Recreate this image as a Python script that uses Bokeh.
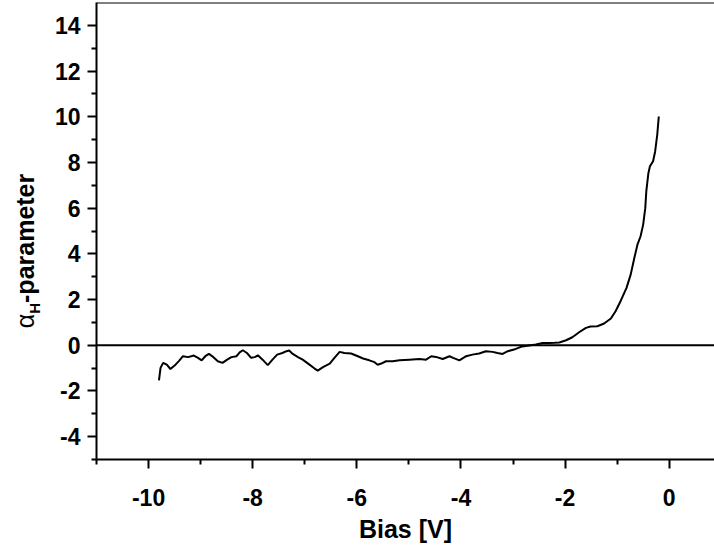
from bokeh.plotting import figure
from bokeh.layouts import row
from bokeh.models import Span, FixedTicker, Range1d, Div
from bokeh.embed import file_html
from bokeh.resources import INLINE

# ---- data ----
bias = [-9.80, -9.77, -9.72, -9.65, -9.58, -9.50, -9.41, -9.34, -9.24, -9.13, -9.05,
        -8.98, -8.91, -8.84, -8.76, -8.67, -8.58, -8.49, -8.41, -8.31, -8.25, -8.19, -8.11, -8.03,
        -7.96, -7.90, -7.81, -7.71, -7.62, -7.53, -7.43, -7.35, -7.30, -7.23, -7.13, -7.04,
        -6.91, -6.81, -6.75, -6.65, -6.52, -6.43, -6.33, -6.24, -6.11,
        -5.98, -5.88, -5.76, -5.66, -5.60, -5.53, -5.44, -5.31, -5.18,
        -4.99, -4.80, -4.67, -4.57, -4.48, -4.35, -4.22, -4.15, -4.03,
        -3.90, -3.78, -3.65, -3.52, -3.39, -3.30, -3.20, -3.10,
        -2.98, -2.85, -2.69, -2.56, -2.43, -2.30, -2.20, -2.11,
        -1.98, -1.86, -1.73, -1.60, -1.51, -1.38, -1.25, -1.12, -1.03,
        -0.93, -0.82, -0.74, -0.67, -0.61, -0.55, -0.50, -0.46, -0.44, -0.40, -0.37, -0.31,
        -0.27, -0.23, -0.20]
alpha_h = [-1.54, -0.99, -0.77, -0.85, -1.04, -0.89, -0.67, -0.48, -0.52, -0.45, -0.55,
           -0.66, -0.48, -0.38, -0.51, -0.70, -0.77, -0.63, -0.52, -0.48, -0.31, -0.22, -0.34, -0.55,
           -0.52, -0.44, -0.63, -0.87, -0.63, -0.41, -0.34, -0.26, -0.23, -0.38, -0.52, -0.63,
           -0.85, -1.02, -1.11, -0.96, -0.80, -0.55, -0.29, -0.34, -0.36,
           -0.48, -0.58, -0.66, -0.74, -0.85, -0.80, -0.70, -0.70, -0.66,
           -0.63, -0.60, -0.63, -0.48, -0.51, -0.60, -0.48, -0.55, -0.66,
           -0.48, -0.41, -0.36, -0.26, -0.29, -0.34, -0.38, -0.26,
           -0.19, -0.07, -0.01, 0.03, 0.10, 0.10, 0.11, 0.12,
           0.22, 0.35, 0.57, 0.76, 0.82, 0.83, 0.95, 1.17, 1.49,
           1.95, 2.51, 3.09, 3.82, 4.40, 4.77, 5.28, 6.00, 6.73, 7.53, 7.83, 8.05,
           8.48, 9.21, 10.01]

x_ticks = [-10, -8, -6, -4, -2, 0]
x_tick_labels = ["-10", "-8", "-6", "-4", "-2", "0"]
x_minor = [-11, -9, -7, -5, -3, -1]
y_ticks = [-4, -2, 0, 2, 4, 6, 8, 10, 12, 14]
y_tick_labels = ["-4", "-2", "0", "2", "4", "6", "8", "10", "12", "14"]
y_minor = [-5, -3, -1, 1, 3, 5, 7, 9, 11, 13]

x_title = "Bias [V]"
y_title_parts = ["α", "H", "-parameter"]

FONT = "Liberation Sans"
X_MIN, X_MAX = -11, 0.87
Y_MIN, Y_MAX = -5, 15
TITLE_W = 45

p = figure(width=714 - TITLE_W, height=551, output_backend="svg", toolbar_location=None,
           x_range=Range1d(X_MIN, X_MAX), y_range=Range1d(Y_MIN, Y_MAX),
           min_border_left=96 - TITLE_W, min_border_right=0, min_border_top=2,
           min_border_bottom=92)
p.outline_line_color = None
p.grid.visible = False
p.background_fill_color = "white"
p.border_fill_color = "white"

p.line(bias, alpha_h, line_color="black", line_width=2)

p.add_layout(Span(location=0, dimension="width", line_color="black", line_width=2))
p.add_layout(Span(location=Y_MAX, dimension="width", line_color="black", line_width=2))

for ax, ticks, labels, minor in ((p.xaxis[0], x_ticks, x_tick_labels, x_minor),
                                 (p.yaxis[0], y_ticks, y_tick_labels, y_minor)):
    ax.ticker = FixedTicker(ticks=ticks, minor_ticks=minor)
    ax.major_label_overrides = dict(zip(ticks, labels))
    ax.axis_line_width = 2
    ax.major_tick_line_width = 2
    ax.minor_tick_line_width = 2
    ax.major_tick_out = 9
    ax.major_tick_in = 0
    ax.minor_tick_out = 5
    ax.minor_tick_in = 0
    ax.major_label_text_font = FONT
    ax.major_label_text_font_style = "bold"
    ax.major_label_text_font_size = "23px"
    ax.major_label_text_color = "black"

p.xaxis.major_label_standoff = 20
p.yaxis.major_label_standoff = 7
p.xaxis.axis_label = x_title
p.xaxis.axis_label_text_font = FONT
p.xaxis.axis_label_text_font_style = "bold"
p.xaxis.axis_label_text_font_size = "25px"
p.xaxis.axis_label_text_color = "black"
p.xaxis.axis_label_standoff = 6

# y-axis title (with subscript) as rotated HTML text to the left of the plot
y_title_html = (
    f'<div style="position:relative;width:{TITLE_W}px;height:551px;">'
    '<span style="position:absolute;left:27px;top:251px;'
    'transform:translate(-50%,-50%) rotate(-90deg);white-space:nowrap;'
    "font-family:'Liberation Sans',Arial,sans-serif;font-size:25px;font-weight:bold;"
    'color:black;line-height:1;">'
    f'<span style="font-weight:normal">{y_title_parts[0]}</span>'
    f'<sub style="font-size:15px">{y_title_parts[1]}</sub>{y_title_parts[2]}</span></div>'
)
title_div = Div(text=y_title_html, width=TITLE_W, height=551, margin=0)

layout = row(title_div, p, spacing=0)

open("out.html", "w").write(file_html(layout, INLINE))
